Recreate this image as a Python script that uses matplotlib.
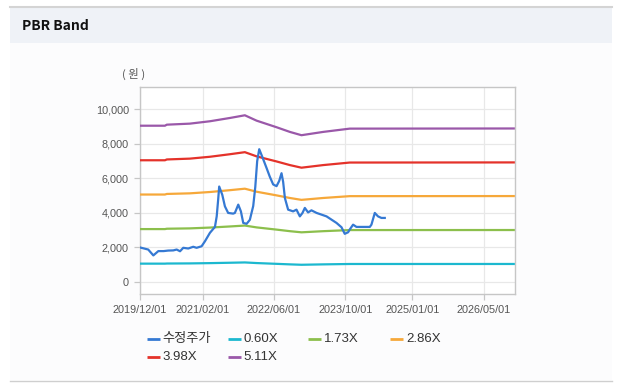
import matplotlib
matplotlib.use("Agg")
import matplotlib.pyplot as plt
from matplotlib.patches import Rectangle
from matplotlib.lines import Line2D
import pandas as pd

# ---------------- data ----------------
price_dates = ["2019-12-01", "2020-01-26", "2020-03-01", "2020-04-04", "2020-05-10",
               "2020-06-10", "2020-07-15", "2020-08-07", "2020-08-30", "2020-09-21",
               "2020-10-25", "2020-11-28", "2020-12-21", "2021-01-24", "2021-02-16",
               "2021-03-22", "2021-04-25", "2021-05-07", "2021-05-17", "2021-05-24",
               "2021-06-14", "2021-07-02", "2021-07-24", "2021-08-27", "2021-09-08",
               "2021-10-01", "2021-10-19", "2021-11-04", "2021-11-27", "2021-12-19",
               "2022-01-11", "2022-01-25", "2022-02-07", "2022-02-21", "2022-03-16",
               "2022-04-12", "2022-05-04", "2022-05-27", "2022-06-19", "2022-07-07",
               "2022-07-23", "2022-08-03", "2022-08-15", "2022-09-06", "2022-10-10",
               "2022-11-02", "2022-11-25", "2022-12-13", "2022-12-29", "2023-01-20",
               "2023-02-12", "2023-03-19", "2023-04-22", "2023-05-26", "2023-06-29",
               "2023-08-02", "2023-09-05", "2023-09-27", "2023-10-20", "2023-10-31",
               "2023-11-23", "2023-12-16", "2024-01-30", "2024-03-16", "2024-03-27",
               "2024-04-19", "2024-05-11", "2024-06-03", "2024-06-26"]
price_values = [2000, 1880, 1540, 1790, 1790,
                1820, 1830, 1880, 1780, 1980,
                1940, 2040, 1980, 2070, 2360,
                2850, 3190, 3800, 4770, 5530,
                5050, 4380, 4000, 3960, 4000,
                4480, 4090, 3420, 3370, 3600,
                4400, 5500, 7000, 7690, 7200,
                6600, 6100, 5650, 5550, 5850,
                6300, 5800, 4860, 4190, 4090,
                4190, 3800, 4000, 4290, 4030,
                4150, 4000, 3900, 3800, 3610,
                3420, 3170, 2790, 2880, 3040,
                3320, 3190, 3190, 3190, 3320,
                4000, 3800, 3710, 3710]

band_dates = ["2019-12-01", "2020-05-19", "2020-06-01", "2020-11-05", "2021-03-22",
              "2021-08-05", "2021-11-15", "2022-02-03", "2022-06-19", "2022-09-18",
              "2022-12-06", "2023-05-03", "2023-10-31", "2026-11-30"]
band_060 = [1063, 1063, 1070, 1077, 1093, 1115, 1133, 1097, 1052, 1021, 998, 1021, 1043, 1044]
band_173 = [3064, 3064, 3085, 3105, 3152, 3216, 3268, 3162, 3034, 2943, 2877, 2943, 3007, 3010]
band_286 = [5065, 5065, 5099, 5134, 5211, 5317, 5403, 5228, 5016, 4865, 4756, 4865, 4971, 4976]
band_398 = [7049, 7049, 7096, 7144, 7252, 7399, 7518, 7275, 6981, 6770, 6619, 6770, 6917, 6925]
band_511 = [9050, 9050, 9110, 9170, 9308, 9498, 9654, 9343, 8962, 8691, 8500, 8691, 8881, 8890]

series_labels = ["수정주가", "0.60X", "1.73X", "2.86X", "3.98X", "5.11X"]
series_colors = ["#3579d3", "#1cb8cf", "#8cbf4c", "#f6a83a", "#e4322a", "#9a58a9"]

x_ticks = ["2019-12-01", "2021-02-01", "2022-06-01", "2023-10-01", "2025-01-01", "2026-05-01"]
x_tick_labels = ["2019/12/01", "2021/02/01", "2022/06/01", "2023/10/01", "2025/01/01", "2026/05/01"]
y_ticks = [0, 2000, 4000, 6000, 8000, 10000]
y_tick_labels = ["0", "2,000", "4,000", "6,000", "8,000", "10,000"]

# ---------------- figure ----------------
W, H = 622, 388
fig = plt.figure(figsize=(W / 100, H / 100), dpi=100)
fig.patch.set_facecolor("white")

def fx(x):
    return x / W

def fy(y):
    return 1 - y / H

# panel background and header
fig.patches.append(Rectangle((fx(10), fy(380)), fx(602), 337 / H, transform=fig.transFigure,
                             facecolor="#fcfcfd", edgecolor="none", zorder=-2))
fig.patches.append(Rectangle((fx(10), fy(43)), fx(602), 36 / H, transform=fig.transFigure,
                             facecolor="#eff2f7", edgecolor="none", zorder=-2))
fig.lines.append(Line2D([fx(10), fx(612)], [fy(7), fy(7)], transform=fig.transFigure,
                        color="#d4d4d4", linewidth=1.5))
fig.lines.append(Line2D([fx(10), fx(612)], [fy(380.5), fy(380.5)], transform=fig.transFigure,
                        color="#cfcfcf", linewidth=1.0))
fig.text(fx(22), fy(26), "PBR Band", fontsize=10, fontweight="bold",
         family=["Noto Sans CJK KR", "DejaVu Sans"], color="#111111", va="center", ha="left")
fig.text(fx(134), fy(74), "( 원 )", fontsize=8.2, family=["Noto Sans CJK KR", "DejaVu Sans"],
         color="#555555", va="center", ha="center")

# axes
ax = fig.add_axes([fx(140), fy(294.3), fx(375), (294.3 - 86.7) / H])
ax.set_facecolor("white")

pd_price = pd.to_datetime(price_dates)
pd_band = pd.to_datetime(band_dates)
bands = [band_060, band_173, band_286, band_398, band_511]

for vals, col in zip(bands, series_colors[1:]):
    ax.plot(pd_band, vals, color=col, linewidth=1.6, solid_capstyle="butt", zorder=3)
ax.plot(pd_price, price_values, color=series_colors[0], linewidth=1.6, zorder=4)

ax.set_xlim(pd.Timestamp("2019-12-01"), pd.Timestamp("2026-12-01"))
ax.set_ylim(-712, 11309)
ax.set_xticks(pd.to_datetime(x_ticks))
ax.set_xticklabels(x_tick_labels)
ax.set_yticks(y_ticks)
ax.set_yticklabels(y_tick_labels)

ax.grid(True, color="#e8e8e8", linewidth=0.9, zorder=0)
ax.set_axisbelow(True)
for s in ax.spines.values():
    s.set_color("#c6c6c6")
    s.set_linewidth(1.0)
ax.tick_params(axis="both", colors="#c6c6c6", length=4, width=0.9, labelcolor="#555555",
               labelsize=7.8, pad=4)
for lab in ax.get_xticklabels() + ax.get_yticklabels():
    lab.set_family(["Liberation Sans", "DejaVu Sans"])

# legend (manual placement)
col_x = [146.7, 227.7, 308.3, 390.0]
row_y = [339.3, 356.7]
for i, (lab, col) in enumerate(zip(series_labels, series_colors)):
    r, c = divmod(i, 4)
    x0 = col_x[c]
    y0 = row_y[r]
    fig.lines.append(Line2D([fx(x0), fx(x0 + 13)], [fy(y0), fy(y0)], transform=fig.transFigure,
                            color=col, linewidth=2.0, solid_capstyle="butt"))
    fig.text(fx(x0 + 16), fy(y0), lab, fontsize=9.5, color="#333333",
             family=["Liberation Sans", "Noto Sans CJK KR"], va="center", ha="left")

fig.savefig("out.png", dpi=100)
